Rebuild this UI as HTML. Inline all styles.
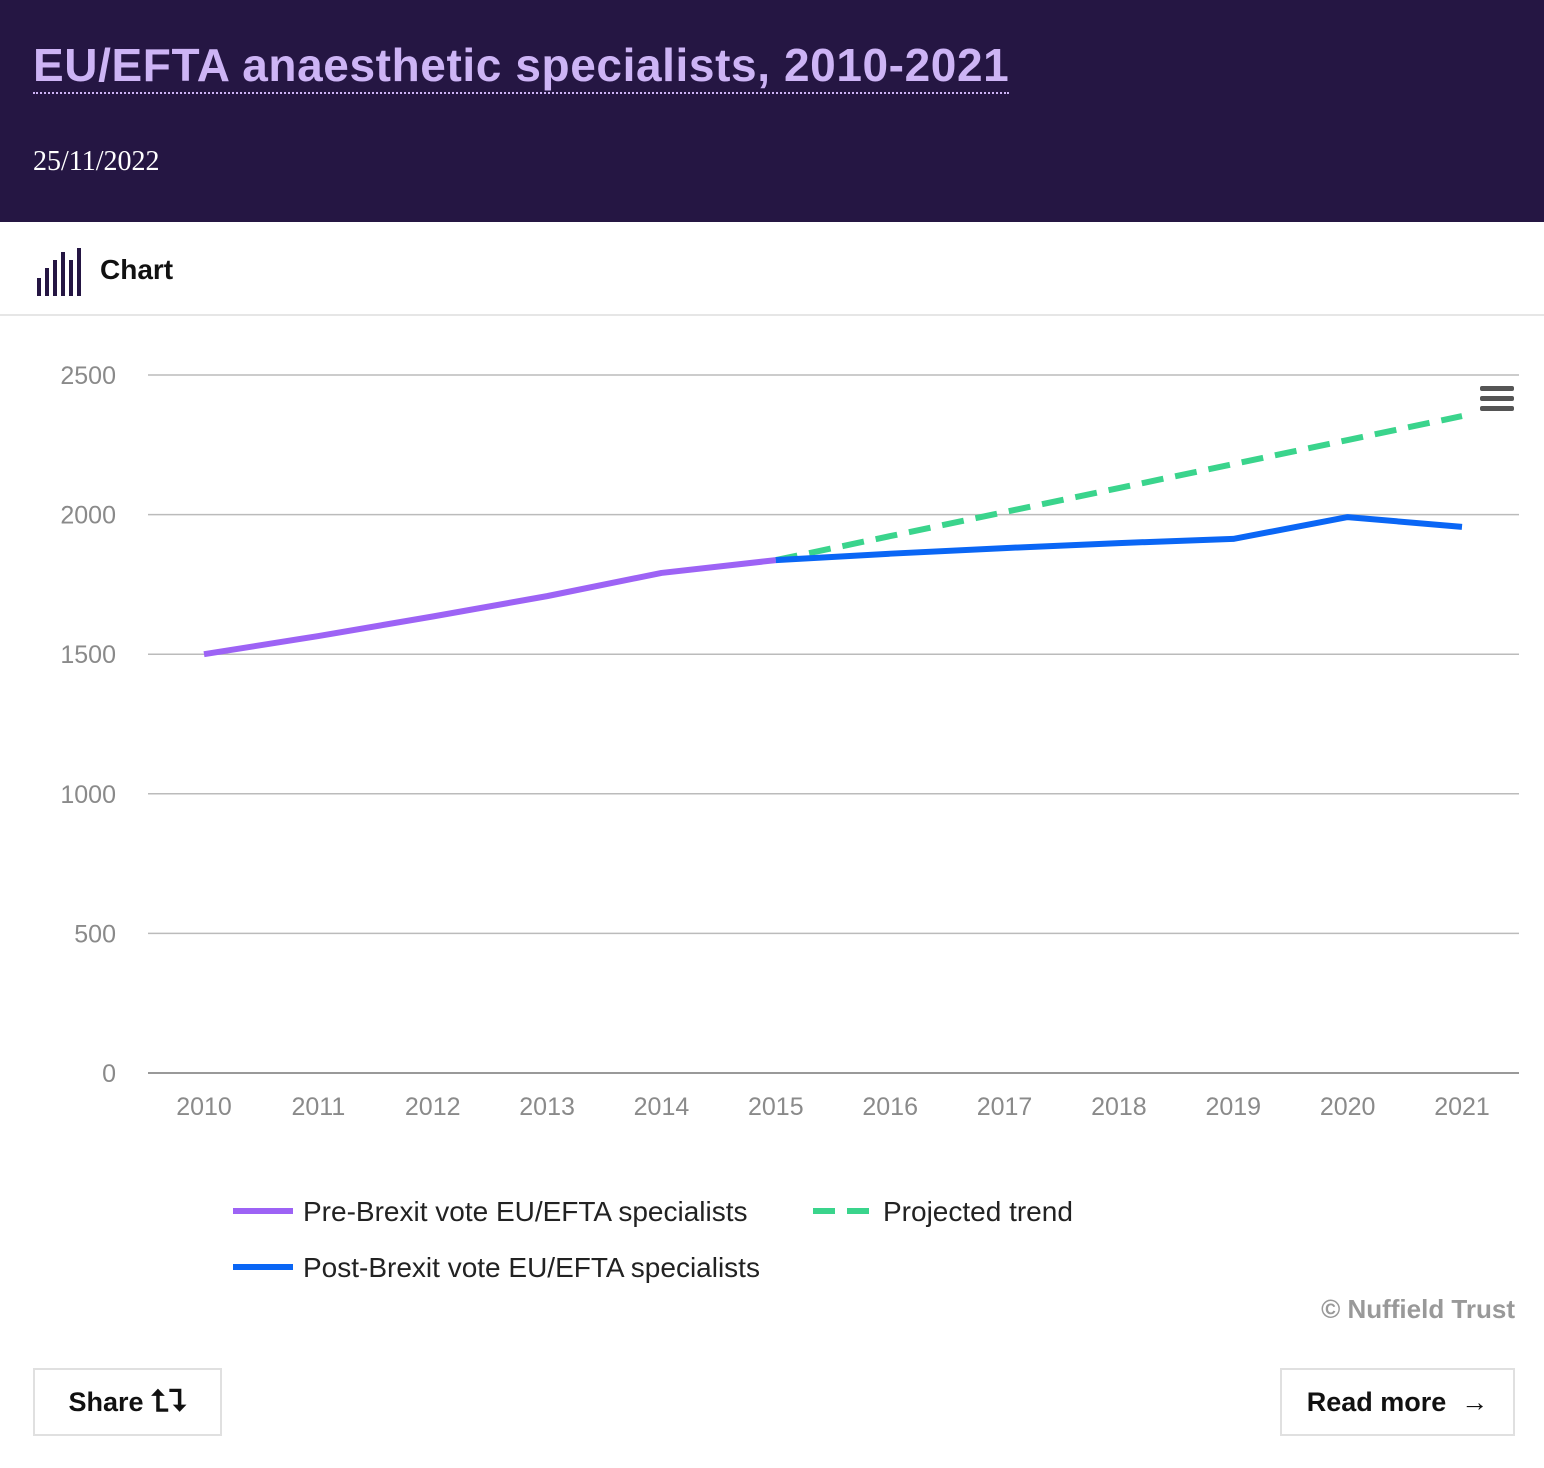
<!DOCTYPE html>
<html><head><meta charset="utf-8"><style>
body{margin:0;width:1544px;height:1468px;background:#fff;font-family:"Liberation Sans",sans-serif;overflow:hidden;position:relative}
.hdr{position:absolute;left:0;top:0;width:1544px;height:222px;background:#251643}
.title{position:absolute;left:33px;top:40px;font-size:46px;letter-spacing:0.6px;font-weight:bold;color:#cdb4f5;border-bottom:2px dotted #cdb4f5;padding-bottom:2px;line-height:50px}
.date{position:absolute;left:33px;top:146px;font-family:"Liberation Serif",serif;font-size:28px;color:#fff}
.tab{position:absolute;left:0;top:222px;width:1544px;height:92px;border-bottom:2px solid #e6e6e6}
.btn{position:absolute;border:2px solid #e0e0e0;font-weight:bold;font-size:27px;color:#111;display:flex;align-items:center;justify-content:center;box-sizing:border-box}
</style></head><body>
<div class="hdr">
<div class="title">EU/EFTA anaesthetic specialists, 2010-2021</div>
<div class="date">25/11/2022</div>
</div>
<div class="tab">
<svg style="position:absolute;left:36px;top:26px" width="46" height="48">
<rect x="1" y="30" width="4" height="18" fill="#251643"/><rect x="9" y="20" width="4" height="28" fill="#251643"/><rect x="17" y="12" width="4" height="36" fill="#251643"/><rect x="25" y="4" width="4" height="44" fill="#251643"/><rect x="33" y="12" width="4" height="36" fill="#251643"/><rect x="41" y="0" width="4" height="48" fill="#251643"/></svg>
<div style="position:absolute;left:100px;top:32px;font-size:28px;font-weight:bold;color:#111">Chart</div>
</div>
<svg id="c" width="1544" height="1468" style="position:absolute;left:0;top:0"></svg>
<div class="btn" style="left:33px;top:1368px;width:189px;height:68px">Share&nbsp;<span style="font-size:30px">⮤⮧</span></div>
<div class="btn" style="left:1280px;top:1368px;width:235px;height:68px">Read more&nbsp;&nbsp;→</div>
<script>
const years=[2010,2011,2012,2013,2014,2015,2016,2017,2018,2019,2020,2021];
const yTicks=[0,500,1000,1500,2000,2500];
const preYears=[2010,2011,2012,2013,2014,2015];
const preVals=[1500,1565,1635,1708,1791,1837];
const postYears=[2015,2016,2017,2018,2019,2020,2021];
const postVals=[1837,1860,1880,1898,1913,1991,1956];
const projYears=[2015,2016,2017,2018,2019,2020,2021];
const projVals=[1837,1923,2009,2095,2181,2267,2353];
const svg=document.getElementById('c');const NS='http://www.w3.org/2000/svg';
const X=y=>204+(y-2010)*(1462-204)/11;
const Y=v=>1073-v*(1073-375)/2500;
function mk(t,a,p){const e=document.createElementNS(NS,t);for(const k in a)e.setAttribute(k,a[k]);(p||svg).appendChild(e);return e;}
yTicks.forEach(v=>{
const l=mk('line',{x1:148,x2:1519,y1:Y(v),y2:Y(v),stroke:v==0?'#999':'#bbb','stroke-width':v==0?2:1.5});


const t=mk('text',{x:116,y:Y(v)+9,'text-anchor':'end','font-size':25,fill:'#8a8a8a','font-family':'Liberation Sans'});t.textContent=v;


});
years.forEach(y=>{const t=mk('text',{x:X(y),y:1115,'text-anchor':'middle','font-size':25,fill:'#8a8a8a','font-family':'Liberation Sans'});t.textContent=y;

});
function line(xs,vs,col,dash,name){const p=mk('polyline',{points:xs.map((x,i)=>X(x)+','+Y(vs[i])).join(' '),fill:'none',stroke:col,'stroke-width':6,'stroke-linejoin':'round','stroke-dasharray':dash||'none'});

}
line(projYears,projVals,'#3ad48c','22 12','projected-trend-line');
line(preYears,preVals,'#9d63f5',null,'pre-brexit-line');
line(postYears,postVals,'#0a66f5',null,'post-brexit-line');
const menu=mk('g',{});
[388,398,408].forEach(y=>mk('rect',{x:1480,y:y-2,width:34,height:5,rx:2,fill:'#555'},menu));
function leg(x,y,col,dash,txt,name){const g=mk('g',{});
mk('line',{x1:x,x2:x+60,y1:y,y2:y,stroke:col,'stroke-width':6,'stroke-dasharray':dash||'none'},g);
const t=mk('text',{x:x+70,y:y+10,'font-size':28,fill:'#222','font-family':'Liberation Sans'},g);t.textContent=txt;}
leg(233,1211,'#9d63f5',null,'Pre-Brexit vote EU/EFTA specialists','legend-pre-brexit');
leg(813,1211,'#3ad48c','22 12','Projected trend','legend-projected');
leg(233,1267,'#0a66f5',null,'Post-Brexit vote EU/EFTA specialists','legend-post-brexit');
const c=mk('text',{x:1515,y:1318,'text-anchor':'end','font-size':26,'font-weight':'bold',fill:'#999','font-family':'Liberation Sans'});c.textContent='© Nuffield Trust';


</script>
</body></html>
